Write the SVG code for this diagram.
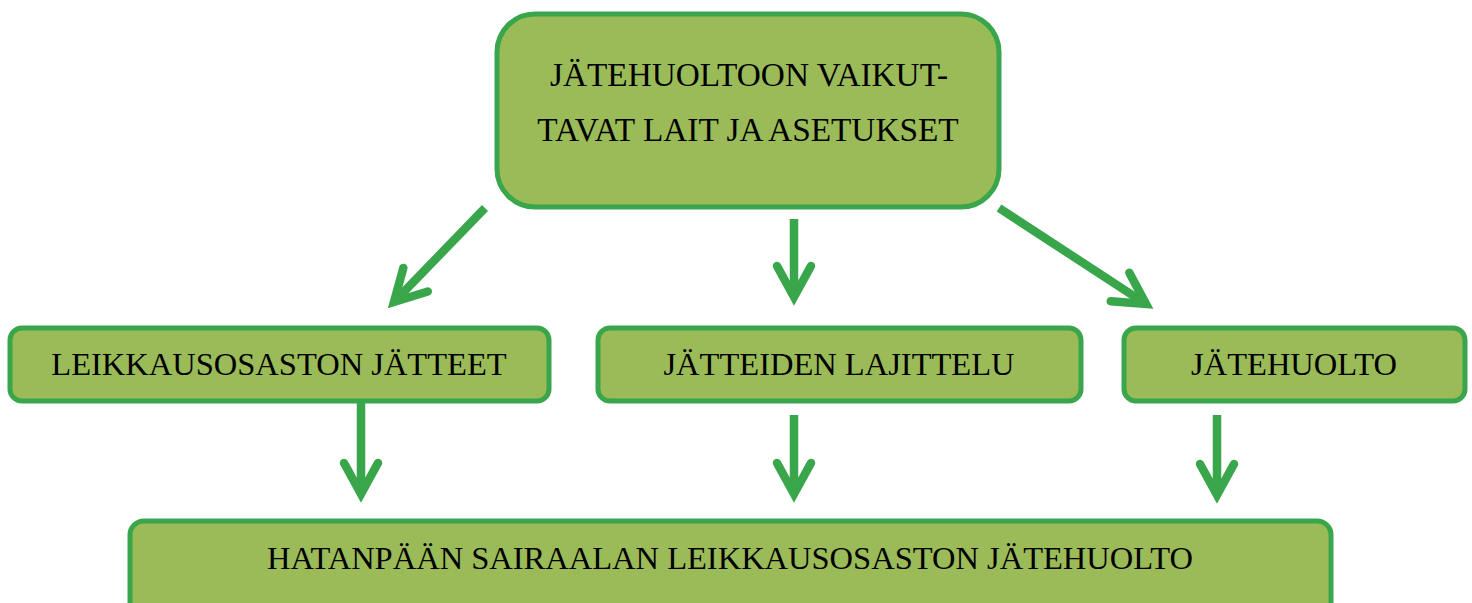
<svg xmlns="http://www.w3.org/2000/svg" width="1472" height="603" viewBox="0 0 1472 603">
<style>
.box{fill:#9BBB59;stroke:#3AA64C;stroke-width:5}
.lbl{font-family:"Liberation Serif","Times New Roman",serif;font-size:32.5px;fill:#000;text-anchor:middle}
.big{font-size:33.3px}
.arr{fill:none;stroke:#3AA64C;stroke-width:8.5;marker-end:url(#chev)}
</style>
<defs>
<marker id="chev" markerUnits="userSpaceOnUse" viewBox="-45 -30 60 60" markerWidth="60" markerHeight="60" refX="0" refY="0" orient="auto">
<path d="M -31 -17 L 0 0 L -31 17" fill="none" stroke="#3AA64C" stroke-width="8.5" stroke-linecap="round" stroke-linejoin="miter"/>
</marker>
</defs>
<g id="connectors">
<line class="arr" x1="485" y1="208" x2="394" y2="302"/>
<line class="arr" x1="794" y1="219" x2="794" y2="297"/>
<line class="arr" x1="999" y1="208" x2="1146" y2="304"/>
<line class="arr" x1="361" y1="402" x2="361" y2="494"/>
<line class="arr" x1="794" y1="415" x2="794" y2="494"/>
<line class="arr" x1="1217" y1="415" x2="1217" y2="495"/>
</g>
<g id="top">
<rect class="box" x="497" y="14" width="502" height="193" rx="38"/>
<text class="lbl big" x="749" y="86">JÄTEHUOLTOON VAIKUT-</text>
<text class="lbl big" x="748" y="141">TAVAT LAIT JA ASETUKSET</text>
</g>
<g id="leikkausosaston">
<rect class="box" x="10" y="328" width="539" height="73" rx="12"/>
<text class="lbl" x="279" y="375">LEIKKAUSOSASTON JÄTTEET</text>
</g>
<g id="lajittelu">
<rect class="box" x="598" y="328" width="483" height="73" rx="12"/>
<text class="lbl" x="839" y="375">JÄTTEIDEN LAJITTELU</text>
</g>
<g id="jatehuolto">
<rect class="box" x="1124" y="328" width="341" height="73" rx="12"/>
<text class="lbl" x="1294" y="375">JÄTEHUOLTO</text>
</g>
<g id="hatanpaa">
<rect class="box" x="130" y="521" width="1201" height="100" rx="14"/>
<text class="lbl" x="730" y="569">HATANPÄÄN SAIRAALAN LEIKKAUSOSASTON JÄTEHUOLTO</text>
</g>
</svg>
